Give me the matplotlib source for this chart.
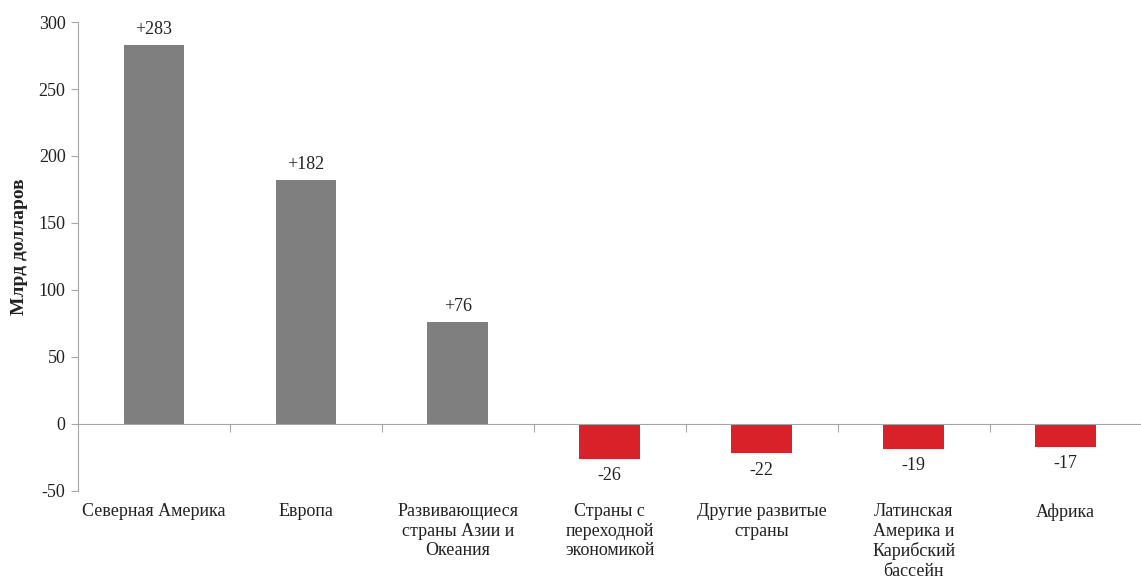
import matplotlib
matplotlib.use("Agg")
import matplotlib.pyplot as plt

regions = ["Северная Америка", "Европа", "Развивающиеся\nстраны Азии и\nОкеания",
           "Страны с\nпереходной\nэкономикой", "Другие развитые\nстраны",
           "Латинская\nАмерика и\nКарибский\nбассейн", "Африка"]
values = [283, 182, 76, -26, -22, -19, -17]
value_labels = ["+283", "+182", "+76", "-26", "-22", "-19", "-17"]
yticks = [-50, 0, 50, 100, 150, 200, 250, 300]

plt.rcParams['font.family'] = ['Liberation Serif', 'DejaVu Serif']

fig = plt.figure(figsize=(11.41, 5.79), dpi=100)
ax = fig.add_axes([0.0684, 0.152, 0.932, 0.810])

x = list(range(len(values)))
colors = ["#7f7f7f" if v > 0 else "#d9212a" for v in values]
ax.bar(x, values, width=0.4, color=colors, zorder=2)

for i, v in enumerate(values):
    if v > 0:
        ax.text(i, v + 5, value_labels[i], ha='center', va='bottom', fontsize=13, color="#222222")
    else:
        ax.text(i, v - 6, value_labels[i], ha='center', va='top', fontsize=13, color="#222222")
    ax.text(i, -59, regions[i], ha='center', va='top', fontsize=13, color="#222222",
            linespacing=1.2, clip_on=False)

ax.set_xlim(-0.5, 6.5)
ax.set_ylim(-50, 300)
ax.set_yticks(yticks)
ax.set_yticklabels([str(t) for t in yticks], fontsize=13, color="#222222")
ax.tick_params(axis='y', direction='out', length=5, color="#a6a6a6", pad=4)

ax.spines['top'].set_visible(False)
ax.spines['right'].set_visible(False)
ax.spines['left'].set_color("#a6a6a6")
ax.spines['bottom'].set_color("#a6a6a6")
ax.spines['bottom'].set_position(('data', 0))
ax.set_xticks([i + 0.5 for i in range(len(values) - 1)])
ax.set_xticklabels([])
ax.tick_params(axis='x', direction='out', length=6, color="#a6a6a6")

ax.set_ylabel("Млрд долларов", fontsize=14, fontweight='bold', color="#222222")
ax.yaxis.set_label_coords(-0.047, 0.52)

fig.savefig("out.png", dpi=100)
